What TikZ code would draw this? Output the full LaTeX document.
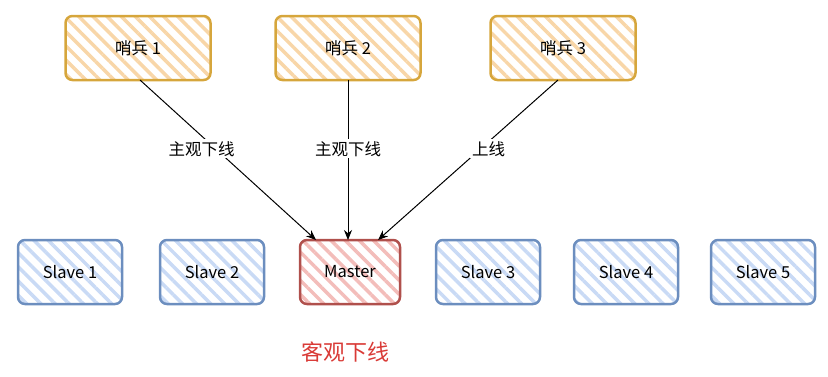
\documentclass[tikz,border=0pt]{standalone}
\usepackage{fontspec}
\setmainfont{Noto Sans CJK SC}
\usetikzlibrary{patterns.meta,arrows.meta}
\definecolor{senB}{HTML}{D6A63C}
\definecolor{senF}{HTML}{F8D6A8}
\definecolor{slvB}{HTML}{6C8EBF}
\definecolor{slvF}{HTML}{C9DAF5}
\definecolor{mstB}{HTML}{B0504C}
\definecolor{mstF}{HTML}{F3BDBA}
\definecolor{redT}{HTML}{D93A36}
\tikzset{
  box/.style={draw, line width=2.5pt, rounded corners=7pt, font=\fontsize{16.5}{20}\selectfont, inner sep=0pt},
  senbox/.style={box, draw=senB, minimum width=145pt, minimum height=64pt,
    pattern={Lines[angle=-45,distance=10pt,line width=3.5pt]}, pattern color=senF},
  slvbox/.style={box, draw=slvB, minimum width=104pt, minimum height=64pt,
    pattern={Lines[angle=-45,distance=10pt,line width=3.5pt]}, pattern color=slvF},
  mstbox/.style={box, draw=mstB, minimum width=100pt, minimum height=64pt,
    pattern={Lines[angle=-45,distance=10pt,line width=3.5pt]}, pattern color=mstF},
  conn/.style={draw=black, line width=1pt, -{Stealth[length=10pt,width=8pt]}},
  lbl/.style={fill=white, inner sep=2pt, font=\fontsize{16.5}{20}\selectfont}
}
\begin{document}
\begin{tikzpicture}[x=1pt,y=-1pt]
\useasboundingbox (0,0) rectangle (828,376);
\node[senbox] (s1) at (138,48) {哨兵 1};
\node[senbox] (s2) at (348,48) {哨兵 2};
\node[senbox] (s3) at (563,48) {哨兵 3};
\node[slvbox] (v1) at (70,272) {Slave 1};
\node[slvbox] (v2) at (212,272) {Slave 2};
\node[mstbox] (m) at (350,272) {Master};
\node[slvbox] (v3) at (488,272) {Slave 3};
\node[slvbox] (v4) at (626,272) {Slave 4};
\node[slvbox] (v5) at (763,272) {Slave 5};
\coordinate (a1) at (140,80);
\coordinate (b1) at (316,240);
\coordinate (a2) at (348,80);
\coordinate (b2) at (348,240);
\coordinate (a3) at (558,80);
\coordinate (b3) at (378,240);
\draw[conn] (a1) -- node[lbl, pos=0.43, xshift=-14pt] {主观下线} (b1);
\draw[conn] (a2) -- node[lbl, pos=0.43] {主观下线} (b2);
\draw[conn] (a3) -- node[lbl, pos=0.43, xshift=8pt] {上线} (b3);
\node[text=redT, font=\fontsize{22}{26}\selectfont] (obj) at (345,352) {客观下线};
\end{tikzpicture}
\end{document}
